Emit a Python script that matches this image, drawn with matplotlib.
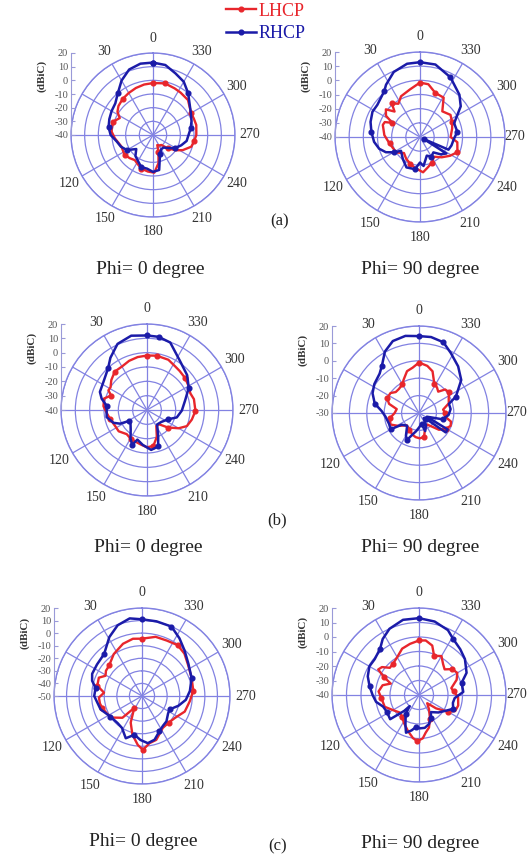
import numpy as np
import matplotlib
matplotlib.use('Agg')
import matplotlib.pyplot as plt

plt.rcParams['font.family'] = ['Liberation Serif', 'DejaVu Serif']
plt.rcParams['axes.unicode_minus'] = False

W, H = 531, 861
fig = plt.figure(figsize=(W / 100, H / 100), dpi=100)

RED = '#e8262c'
BLUE = '#1b1ba8'
GRID = '#8282e2'
TXT = '#333333'

# ---------------- data (theta: deg, counter-clockwise from top; gain: dBiC) -------------
# (a) Phi = 0
a0_rhcp_theta = [0, 10, 20, 30, 40, 50, 60, 70, 80, 90, 100, 110, 120, 130, 140, 150, 160, 170,
                 180, 190, 200, 210, 220, 230, 240, 250, 260, 270, 280, 290, 300, 310, 320, 330, 340, 350]
a0_rhcp_gain = [13, 13, 11, 6, 0, -4, -5, -6, -7, -9, -13, -15, -18, -24, -20, -18, -15, -15,
                -13, -14, -25, -28, -28, -25, -21, -18, -15, -14, -12, -10, -8, -5, 0, 5, 8, 12]
a0_lhcp_theta = [0, 10, 20, 30, 40, 50, 57, 63, 72, 85, 95, 110, 125, 135, 144, 152, 161, 172, 182,
                 191, 198, 203, 212, 220, 228, 236, 243, 253, 262, 270, 283, 292, 300, 315, 327, 335, 347]
a0_lhcp_gain = [-2, -2.5, -3.4, -4.5, -5.5, -7, -9, -12.7, -9, -9.5, -12, -15.4, -14.6, -16, -17.3, -16,
                -14, -13, -12.4, -19, -27, -32, -31, -30.5, -25.4, -20, -15.6, -10.7, -9.5, -8.3, -7.5,
                -7.8, -7.8, -3.8, -3, -2.4, -1.2]

# (a) Phi = 90
a1_rhcp_theta = [0, 10, 22, 33, 38, 53, 62, 73, 84, 96, 106, 114, 121, 126, 142, 156, 171, 180, 187,
                 200, 210, 221, 230, 238, 242, 246, 255, 267, 278, 292, 307, 317, 333, 348]
a1_rhcp_gain = [12.8, 12.5, 9.5, 4, 1, -2.3, -2, -3.5, -5.5, -7.4, -10, -13.6, -19, -23.4, -20.3, -16.5,
                -17, -22, -19.4, -26, -24, -25.6, -21, -18, -37, -18, -17, -16, -13.4, -14, -4, 0.8, 7.3, 12.3]
a1_lhcp_theta = [0, 12, 25, 33, 40, 45, 51, 58, 63, 67, 72, 87, 102, 123, 135, 148, 160, 170, 185, 195,
                 205, 215, 227, 238, 248, 262, 270, 285, 295, 306, 319, 329, 341, 351]
a1_lhcp_gain = [-1.6, -5.7, -8.3, -12, -9, -14.6, -9, -11.7, -18, -13, -12.4, -14.8, -18, -20, -24, -21.7,
                -20, -18, -15, -18, -20, -23, -19, -15, -11.5, -13.4, -18.4, -16.5, -15, -13.4, -16,
                -7.6, -7, -2.3]

# (b) Phi = 0
b0_rhcp_theta = [0, 12, 24, 35, 43, 57, 69, 76, 84, 100, 111, 117, 121, 130, 140, 150, 157, 162, 173,
                 186, 197, 203, 215, 230, 246, 256, 269, 284, 298, 311, 326, 341, 351]
b0_rhcp_gain = [12, 13, 10.5, 4.5, -0.2, -3.8, -4.8, -7.4, -11.7, -11.4, -15, -19, -25, -25, -22.3, -17,
                -13.6, -18.3, -15.5, -12, -13.4, -20, -27.7, -27, -24, -18.6, -15.7, -12.6, -7, -2.9,
                1.2, 9.8, 11.7]
b0_lhcp_theta = [0, 10, 20, 30, 40, 50, 58, 63, 68, 75, 85, 95, 104, 115, 127, 140, 150, 160, 170, 180,
                 190, 200, 210, 220, 230, 240, 248, 258, 269, 283, 291, 300, 310, 320, 327, 337, 350]
b0_lhcp_gain = [-2, -2.5, -3.5, -5, -5, -7.5, -10, -9.8, -13, -9, -9.5, -12, -13.5, -15, -15.3, -18, -17,
                -16.5, -15.5, -14, -14.5, -20, -27, -27, -21, -14.5, -10, -8, -6.2, -6.4, -7.6, -6.5,
                -5.3, -4.5, -3.8, -1.9, -1.5]

# (b) Phi = 90
b1_rhcp_theta = [0, 10, 20, 29, 38, 45, 57, 67, 78, 87, 96, 110, 120, 124, 137, 150, 156, 163, 171,
                 182, 193, 199, 210, 222, 230, 234, 240, 245, 255, 266, 277, 287, 294, 308, 320, 332,
                 341, 351]
b1_rhcp_gain = [14.2, 15, 14, 10.4, 4.6, 2, 0.6, -1, -4, -8.5, -10.6, -11.7, -11.2, -18, -20, -15, -13,
                -17, -19.4, -22, -23.5, -19, -22, -26, -25, -11, -11, -25, -16, -13, -11.7, -12, -6.8,
                0.8, 5, 9, 13, 14.2]
b1_lhcp_theta = [0, 8, 16, 25, 30, 40, 48, 55, 65, 73, 80, 90, 100, 112, 122, 135, 150, 163, 172, 182,
                 192, 200, 215, 230, 240, 248, 255, 262, 270, 278, 288, 296, 305, 312, 318, 325, 332,
                 342, 350]
b1_lhcp_gain = [-1, -3.7, -5, -9, -11, -12, -12, -10, -9.8, -12, -17, -16, -13, -12.3, -16, -20, -19, -17,
                -16, -15.4, -16, -20, -22, -15, -12, -10.4, -11, -14.8, -15, -16, -12, -11, -9, -9.8,
                -13.5, -12, -11.2, -4.8, -2.5]

# (c) Phi = 0
c0_rhcp_theta = [0, 9, 19, 29, 42, 55, 66, 73, 80, 90, 98, 108, 123, 138, 148, 159, 169, 178, 187,
                 196, 206, 215, 224, 236, 244, 255, 265, 276, 290, 305, 317, 327, 337, 349]
c0_rhcp_gain = [11, 12.5, 9.5, 3.6, -5, -6.3, -6.6, -8.5, -12.5, -12, -14, -15.4, -20, -21, -20, -14,
                -18.6, -15, -12.2, -13.8, -18.6, -21, -22, -25, -25.6, -20, -15, -11.7, -8, -5, -0.4,
                4.7, 10, 10.5]
c0_lhcp_theta = [0, 9, 20, 34, 47, 55, 61, 67, 77, 85, 92, 100, 107, 118, 126, 138, 147, 157, 166, 175,
                 181, 189, 198, 213, 225, 236, 250, 264, 276, 290, 303, 315, 325, 336, 347]
c0_lhcp_gain = [-4.4, -3.9, -5.8, -9.8, -14.3, -15, -16.8, -12.7, -13.5, -19.7, -15.7, -16, -17, -19,
                -20.8, -26.7, -38.7, -27, -18.4, -11, -7.1, -12, -13.3, -19.7, -20, -18.6, -13.8,
                -11.7, -9, -8, -6, -2.3, -0.6, -1.7, -1.7]

# (c) Phi = 90
c1_rhcp_theta = [0, 12, 24, 33, 40, 51, 60, 70, 80, 90, 99, 108, 118, 130, 137, 140, 145, 156, 161,
                 168, 174, 182, 190, 199, 207, 215, 228, 240, 248, 257, 265, 274, 286, 295, 308, 318,
                 329, 336, 348]
c1_rhcp_gain = [13, 13, 10, 6, 1.7, -0.7, -0.5, -2.4, -5.4, -8, -10, -14, -15, -14, -25, -30, -24, -17,
                -12.5, -15, -17.6, -17, -17, -18.8, -22, -25.6, -22, -18.4, -14.6, -16, -15.3, -9.4,
                -9.4, -3.8, 0.2, 2.5, 5.4, 9, 11.8]
c1_lhcp_theta = [0, 10, 20, 30, 40, 47, 53, 58, 63, 68, 75, 85, 95, 109, 121, 132, 142, 152, 163, 172,
                 178, 185, 190, 197, 205, 215, 225, 232, 240, 246, 255, 267, 276, 282, 292, 300, 308,
                 315, 322, 330, 339, 345, 353]
c1_lhcp_gain = [-2.4, -4.2, -6, -9.9, -12, -12.5, -8, -6.8, -13, -19, -14, -12, -14, -15, -19.5, -22,
                -21, -18, -14, -10, -8.2, -10, -13.6, -16.5, -22, -28, -32, -25, -17, -12.7, -12, -13,
                -16, -17.2, -12, -9.5, -11, -15, -13, -9, -11, -4.7, -2.1]

theta_ticks = [0, 30, 120, 150, 180, 210, 240, 270, 300, 330]
theta_ticklabels = ['0', '30', '120', '150', '180', '210', '240', '270', '300', '330']

# ---------------- layout: (centre x, centre y, radius) in pixels, radial range ------------
panels = [
    dict(c=(153, 135), R=82, rng=(-40, 20), lh=(a0_lhcp_theta, a0_lhcp_gain), rh=(a0_rhcp_theta, a0_rhcp_gain)),
    dict(c=(420, 137), R=85, rng=(-40, 20), lh=(a1_lhcp_theta, a1_lhcp_gain), rh=(a1_rhcp_theta, a1_rhcp_gain)),
    dict(c=(147, 410), R=86, rng=(-40, 20), lh=(b0_lhcp_theta, b0_lhcp_gain), rh=(b0_rhcp_theta, b0_rhcp_gain)),
    dict(c=(419, 413), R=87, rng=(-30, 20), lh=(b1_lhcp_theta, b1_lhcp_gain), rh=(b1_rhcp_theta, b1_rhcp_gain)),
    dict(c=(142, 696), R=88, rng=(-50, 20), lh=(c0_lhcp_theta, c0_lhcp_gain), rh=(c0_rhcp_theta, c0_rhcp_gain)),
    dict(c=(419, 695), R=87, rng=(-40, 20), lh=(c1_lhcp_theta, c1_lhcp_gain), rh=(c1_rhcp_theta, c1_rhcp_gain)),
]


def closed(t, g):
    t = list(t) + [t[0] + 360]
    g = list(g) + [g[0]]
    return np.deg2rad(t), np.array(g, dtype=float)


handles = None
for i, p in enumerate(panels):
    cx, cy = p['c']
    R = p['R']
    rmin, rmax = p['rng']
    ax = fig.add_axes([(cx - R) / W, (H - cy - R) / H, 2 * R / W, 2 * R / H], projection='polar')
    ax.set_theta_zero_location('N')
    ax.set_theta_direction(1)
    ax.set_rlim(rmin, rmax)
    ax.set_rticks(np.arange(rmin + 10, rmax + 1, 10))
    ax.set_yticklabels([])
    ax.set_thetagrids(np.arange(0, 360, 30), [''] * 12)
    ax.tick_params(axis='x', length=0)
    ax.grid(True, color=GRID, lw=0.9)
    ax.spines['polar'].set_color(GRID)
    ax.spines['polar'].set_linewidth(1.0)
    ax.set_facecolor('none')

    # angle labels just outside the outer ring
    right_col = (i % 2 == 1)
    for a, s in zip(theta_ticks, theta_ticklabels):
        f = 1.18
        if right_col and a == 270:
            f = 1.12
        ax.text(np.deg2rad(a), rmin + f * (rmax - rmin), s, ha='center', va='center',
                fontsize=10, color=TXT, clip_on=False)

    tl, gl = closed(*p['lh'])
    tr, gr = closed(*p['rh'])
    l1, = ax.plot(tl, gl, color=RED, lw=1.7, marker='o', ms=3.4, markevery=4, label='LHCP')
    l2, = ax.plot(tr, gr, color=BLUE, lw=1.8, marker='o', ms=3.4, markevery=4, label='RHCP')
    if handles is None:
        handles = [l1, l2]

    # radial scale drawn as a vertical axis at the left of the circle
    axr = fig.add_axes([(cx - R) / W, (H - cy) / H, 0.5 / W, R / H])
    axr.set_ylim(rmin, rmax)
    axr.set_xticks([])
    axr.set_yticks(np.arange(rmin, rmax + 1, 10))
    for s in ['top', 'right', 'bottom']:
        axr.spines[s].set_visible(False)
    axr.spines['left'].set_color('#9a9ad8')
    axr.patch.set_visible(False)
    axr.tick_params(axis='y', direction='in', length=3, width=0.8, color='#9a9ad8',
                    labelsize=7.5, labelcolor='#555555', pad=2)
    fig.text((cx - R - 29) / W, 1 - (cy - 0.72 * R) / H, '(dBiC)', rotation=90,
             fontsize=8, fontweight='bold', color=TXT, ha='center', va='center')

# legend
fig.legend(handles, ['LHCP', 'RHCP'], loc='upper left', bbox_to_anchor=(222 / W, 1 + 1 / H),
           frameon=False, fontsize=13, handlelength=1.7, handletextpad=0.15, labelspacing=0.3,
           labelcolor='linecolor', borderaxespad=0, borderpad=0.2)

# captions
caps = [((280, 221), '(a)', 12), ((150, 270), 'Phi= 0 degree', 14), ((420, 270), 'Phi= 90 degree', 14),
        ((277, 520), '(b)', 12), ((148, 547), 'Phi= 0 degree', 14), ((420, 548), 'Phi= 90 degree', 14),
        ((278, 846), '(c)', 12), ((143, 842), 'Phi= 0 degree', 14), ((420, 843), 'Phi= 90 degree', 14)]
for (x, y), s, fs in caps:
    fig.text(x / W, 1 - y / H, s, fontsize=fs, color='#222222', ha='center', va='center')

fig.savefig('out.png', dpi=100)
